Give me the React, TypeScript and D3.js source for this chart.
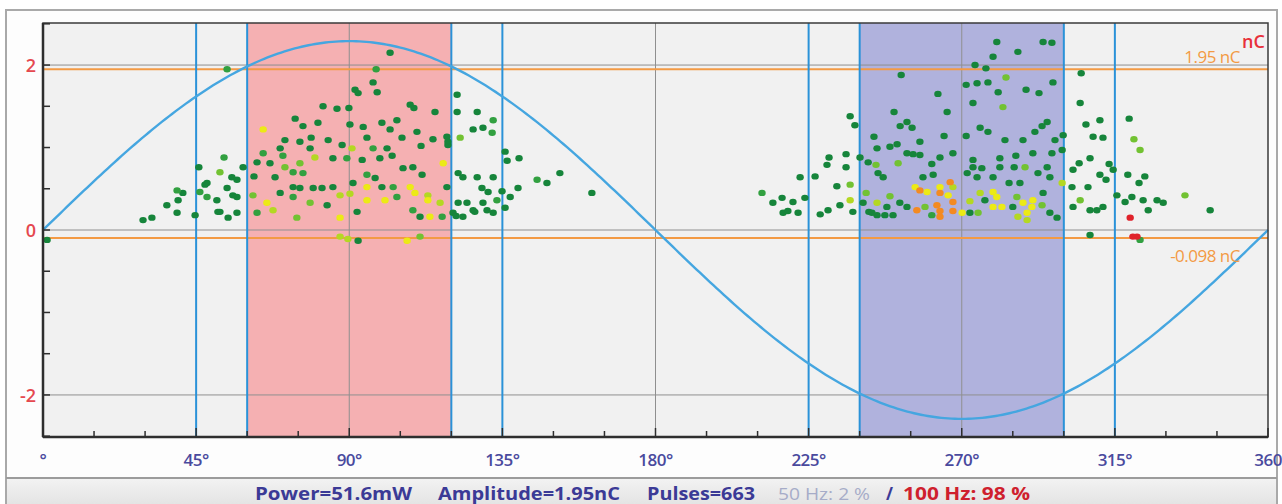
import { useEffect, useRef } from 'react';
import * as d3 from 'd3';

// phase (deg), amplitude (nC)
const darkGreenPulses = [
  [102.0, 2.15], [97.0, 1.79], [91.7, 1.70], [92.6, 1.66], [98.2, 1.67], [82.3, 1.50], [86.4, 1.47], [89.9, 1.48],
  [107.9, 1.52], [109.0, 1.48], [115.2, 1.43], [121.7, 1.64], [121.7, 1.43], [127.6, 1.43], [74.1, 1.35], [76.4, 1.26],
  [80.8, 1.30], [90.2, 1.28], [94.1, 1.25], [99.6, 1.30], [102.0, 1.22], [104.0, 1.33], [109.9, 1.19], [105.5, 1.12],
  [114.6, 1.10], [118.7, 1.13], [126.4, 1.22], [129.3, 1.24], [71.1, 1.09], [75.5, 1.07], [78.8, 1.12], [83.8, 1.09],
  [87.9, 1.03], [95.2, 1.12], [101.1, 0.99], [111.1, 1.02], [119.0, 1.03], [69.7, 0.99], [78.5, 0.99], [102.6, 0.90],
  [66.7, 0.81], [62.9, 0.82], [45.8, 0.76], [58.8, 0.76], [62.0, 0.65], [68.2, 0.64], [85.2, 0.87], [93.8, 0.85],
  [99.0, 0.87], [105.8, 0.75], [108.7, 0.76], [111.4, 0.67], [122.0, 0.69], [127.6, 0.64], [132.3, 0.64], [97.6, 0.63],
  [55.5, 0.64], [57.0, 0.61], [48.2, 0.57], [54.1, 0.51], [41.1, 0.45], [73.5, 0.52], [75.5, 0.51], [79.4, 0.51],
  [82.0, 0.51], [85.2, 0.52], [91.1, 0.57], [99.6, 0.52], [118.7, 0.52], [122.0, 0.33], [124.6, 0.33], [129.3, 0.33],
  [69.7, 0.45], [83.5, 0.30], [51.1, 0.36], [57.0, 0.40], [36.4, 0.30], [39.4, 0.21], [44.7, 0.18], [51.4, 0.22],
  [57.0, 0.21], [54.4, 0.15], [29.4, 0.12], [32.0, 0.15], [92.3, 0.22], [110.8, 0.16], [120.5, 0.21], [123.4, 0.16],
  [126.4, 0.24], [130.5, 0.24], [132.3, 0.21], [92.6, -0.13], [135.8, 0.95], [136.4, 0.84], [139.9, 0.87], [151.9, 0.69],
  [139.6, 0.51], [134.9, 0.47], [161.3, 0.45], [137.3, 0.40], [135.8, 0.27], [47.6, 0.55], [39.7, 0.36], [55.8, 0.42],
  [52.0, 0.22], [1.2, -0.12], [119.0, 1.07], [129.0, 0.51], [130.8, 0.46], [123.4, 0.64], [126.9, 0.22], [121.4, 0.17],
  [148.1, 0.57],
  [280.3, 2.28], [293.9, 2.28], [296.5, 2.27], [286.5, 2.16], [279.2, 2.10], [273.9, 2.00], [277.1, 1.96], [252.2, 1.88],
  [305.1, 1.90], [271.3, 1.76], [274.5, 1.78], [277.7, 1.79], [296.8, 1.79], [263.0, 1.65], [280.7, 1.67], [288.9, 1.70],
  [292.7, 1.66], [304.8, 1.54], [273.3, 1.54], [250.1, 1.43], [265.7, 1.43], [237.2, 1.38], [238.6, 1.27], [253.9, 1.31],
  [251.9, 1.26], [255.4, 1.24], [295.1, 1.31], [293.6, 1.26], [291.5, 1.19], [275.4, 1.24], [277.7, 1.19], [306.5, 1.28],
  [310.6, 1.33], [319.2, 1.35], [308.6, 1.13], [311.5, 1.12], [299.8, 1.15], [297.4, 1.09], [288.0, 1.09], [282.7, 1.09],
  [271.3, 1.14], [264.8, 1.14], [257.7, 1.07], [244.2, 1.13], [248.9, 1.01], [251.0, 1.04], [245.1, 0.99], [253.9, 0.93],
  [255.7, 0.92], [257.7, 0.91], [267.4, 0.93], [263.6, 0.88], [261.2, 0.80], [273.3, 0.85], [273.3, 0.76], [275.9, 0.75],
  [281.2, 0.87], [285.9, 0.90], [290.9, 0.93], [296.5, 0.93], [299.5, 0.97], [285.4, 0.76], [281.2, 0.76], [295.1, 0.76],
  [304.5, 0.81], [307.7, 0.87], [313.3, 0.80], [302.7, 0.73], [310.6, 0.67], [314.5, 0.73], [236.0, 0.92], [231.0, 0.88],
  [240.1, 0.88], [242.5, 0.82], [230.4, 0.79], [236.0, 0.76], [245.4, 0.69], [246.9, 0.64], [258.6, 0.64], [261.6, 0.67],
  [271.6, 0.69], [274.5, 0.64], [279.2, 0.64], [283.9, 0.57], [287.1, 0.57], [292.4, 0.69], [295.9, 0.64], [302.4, 0.52],
  [307.1, 0.52], [312.4, 0.61], [318.8, 0.67], [323.8, 0.65], [322.1, 0.57], [222.5, 0.64], [226.9, 0.65], [233.3, 0.53],
  [214.5, 0.33], [217.2, 0.39], [220.4, 0.34], [223.9, 0.39], [217.5, 0.21], [218.9, 0.23], [221.9, 0.21], [228.4, 0.19],
  [230.7, 0.24], [234.2, 0.30], [238.0, 0.22], [241.0, 0.33], [242.7, 0.22], [245.1, 0.18], [248.0, 0.28], [247.4, 0.18],
  [249.8, 0.18], [251.8, 0.33], [253.9, 0.28], [276.8, 0.36], [272.4, 0.21], [285.0, 0.28], [295.9, 0.21], [298.0, 0.15],
  [293.9, 0.45], [302.7, 0.28], [307.7, 0.24], [309.7, 0.24], [311.5, 0.28], [315.6, 0.42], [318.0, 0.34], [320.0, 0.40],
  [323.3, 0.36], [327.4, 0.36], [329.2, 0.33], [324.8, 0.24], [343.0, 0.24], [307.7, -0.06], [243.6, 0.21],
];

const greenPulses = [
  [54.1, 1.95], [97.9, 1.95], [132.3, 1.33], [132.0, 1.18], [97.0, 0.99], [64.7, 0.93], [70.5, 0.90], [53.2, 0.88],
  [89.3, 0.87], [95.2, 0.67], [76.4, 0.69], [73.5, 0.70], [39.4, 0.48], [46.1, 0.46], [102.9, 0.52], [133.4, 0.36],
  [104.0, 0.40], [62.9, 0.21], [73.5, 0.40], [48.2, 0.40], [108.7, 0.24], [117.3, 0.16], [145.2, 0.61], [211.3, 0.45],
  [261.2, 0.18], [322.4, -0.12],
];

const lightGreenPulses = [
  [122.6, 1.12], [71.1, 0.76], [75.5, 0.81], [52.0, 0.70], [61.7, 0.42], [78.5, 0.33], [74.6, 0.15], [110.8, -0.08],
  [283.0, 1.85], [282.1, 1.49], [320.6, 1.10], [322.4, 0.97], [288.6, 0.76], [244.8, 0.79], [251.3, 0.81], [237.2, 0.55],
  [248.9, 0.41], [259.2, 0.28], [274.8, 0.21], [286.2, 0.40], [293.6, 0.30], [304.8, 0.36], [335.6, 0.42], [241.9, 0.45],
];

const yellowGreenPulses = [
  [90.8, 0.99], [79.9, 0.88], [113.1, 0.42], [87.3, 0.42], [90.2, 0.44], [116.7, 0.33], [67.6, 0.24], [87.3, -0.08],
  [89.6, -0.11], [299.5, 0.57], [237.2, 0.36], [267.4, 0.52], [272.4, 0.35], [275.4, 0.45], [286.5, 0.16], [289.2, 0.12],
  [245.1, 0.33],
];

const yellowPulses = [
  [64.7, 1.22], [117.6, 0.81], [95.2, 0.52], [107.9, 0.52], [109.3, 0.45], [95.2, 0.36], [100.5, 0.36], [113.1, 0.36],
  [65.8, 0.33], [87.3, 0.15], [113.7, 0.16], [107.0, -0.13], [256.3, 0.52], [259.8, 0.46], [263.6, 0.52], [266.0, 0.42],
  [270.1, 0.21], [279.2, 0.46], [280.3, 0.40], [279.2, 0.28], [281.8, 0.28], [288.0, 0.33], [290.9, 0.36], [290.6, 0.28],
  [289.2, 0.21],
];

const orangePulses = [
  [256.8, 0.24], [257.7, 0.48], [263.6, 0.45], [266.6, 0.58], [267.4, 0.34], [262.7, 0.30], [263.6, 0.23], [267.4, 0.23],
  [263.6, 0.16],
];

const redPulses = [[319.5, 0.15], [320.3, -0.08], [321.5, -0.08]];

const pulseGroups = [
  { pts: darkGreenPulses, color: '#16853a' },
  { pts: greenPulses, color: '#30a040' },
  { pts: lightGreenPulses, color: '#72c232' },
  { pts: yellowGreenPulses, color: '#b4d824' },
  { pts: yellowPulses, color: '#ecea12' },
  { pts: orangePulses, color: '#f38a22' },
  { pts: redPulses, color: '#e0242c' },
];

const phaseTicks = [0, 15, 30, 45, 60, 75, 90, 105, 120, 135, 150, 165, 180, 195, 210, 225, 240, 255, 270, 285, 300, 315, 330, 345, 360];
const phaseLabelValues = [0, 45, 90, 135, 180, 225, 270, 315, 360];
const phaseLabelTexts = ['°', '45°', '90°', '135°', '180°', '225°', '270°', '315°', '360'];
const ampTicks = [-2.5, -2, -1.5, -1, -0.5, 0, 0.5, 1, 1.5, 2, 2.5];
const ampLabelValues = [-2, 0, 2];
const gridPhases = [90, 180, 270];
const windowLines = [45, 60, 120, 135, 225, 240, 300, 315];
const posWindow = [60, 120];
const negWindow = [240, 300];
const thresholds = [1.95, -0.098];
const thresholdLabels = ['1.95 nC', '-0.098 nC'];
const sineAmplitude = 2.29;
const statusParts = [
  { text: 'Power=51.6mW', x: 255, w: 157, color: '#3b3a96', weight: 700 },
  { text: 'Amplitude=1.95nC', x: 438, w: 182, color: '#3b3a96', weight: 700 },
  { text: 'Pulses=663', x: 647, w: 108, color: '#3b3a96', weight: 700 },
  { text: '50 Hz: 2 %', x: 778, w: 92, color: '#a6acc8', weight: 400 },
  { text: '/', x: 886, w: 7, color: '#3b3a96', weight: 700 },
  { text: '100 Hz: 98 %', x: 903, w: 127, color: '#cf1f2e', weight: 700 },
];

export default function App() {
  const svgRef = useRef<SVGSVGElement>(null);

  useEffect(() => {
    const svg = d3.select(svgRef.current);
    svg.selectAll('*').remove();

    const left = 43, right = 1268, top = 23, bottom = 437;
    const x = d3.scaleLinear().domain([0, 360]).range([left, right]);
    const y = d3.scaleLinear().domain([-2.51, 2.51]).range([bottom, top]);

    // frame
    svg.append('rect').attr('width', 1282).attr('height', 504).attr('fill', '#fff');
    svg.append('rect').attr('x', 6).attr('y', 10).attr('width', 1271).attr('height', 500)
      .attr('fill', '#fdfdfd').attr('stroke', '#a9a9a9').attr('stroke-width', 2);

    // plot bg
    svg.append('rect').attr('x', left).attr('y', top).attr('width', right - left).attr('height', bottom - top)
      .attr('fill', '#f1f1f1');

    // windows
    svg.append('rect').attr('x', x(posWindow[0])).attr('y', top)
      .attr('width', x(posWindow[1]) - x(posWindow[0])).attr('height', bottom - top).attr('fill', '#f5b0b2');
    svg.append('rect').attr('x', x(negWindow[0])).attr('y', top)
      .attr('width', x(negWindow[1]) - x(negWindow[0])).attr('height', bottom - top).attr('fill', '#b0b2dd');

    // grid
    svg.append('g').selectAll('line').data(ampLabelValues).join('line')
      .attr('x1', left).attr('x2', right).attr('y1', (d) => y(d)).attr('y2', (d) => y(d))
      .attr('stroke', '#8f8f8f').attr('stroke-width', 1);
    svg.append('g').selectAll('line').data(gridPhases).join('line')
      .attr('x1', (d) => x(d)).attr('x2', (d) => x(d)).attr('y1', top).attr('y2', bottom)
      .attr('stroke', '#8f8f8f').attr('stroke-width', 1);

    // thresholds
    svg.append('g').selectAll('line').data(thresholds).join('line')
      .attr('x1', left).attr('x2', right).attr('y1', (d) => y(d)).attr('y2', (d) => y(d))
      .attr('stroke', '#f39a44').attr('stroke-width', 2);

    // window borders
    svg.append('g').selectAll('line').data(windowLines).join('line')
      .attr('x1', (d) => x(d)).attr('x2', (d) => x(d)).attr('y1', top).attr('y2', bottom)
      .attr('stroke', '#2a92d8').attr('stroke-width', 2);

    // reference sine
    const phases = d3.range(0, 360.5, 1);
    const line = d3.line<number>()
      .x((d) => x(d))
      .y((d) => y(sineAmplitude * Math.sin((d * Math.PI) / 180)));
    svg.append('path').datum(phases).attr('d', line).attr('fill', 'none')
      .attr('stroke', '#45a6e0').attr('stroke-width', 2.4);

    // pulses
    const defs = svg.append('defs');
    defs.append('filter').attr('id', 'soft').append('feGaussianBlur').attr('stdDeviation', 0.5);
    pulseGroups.forEach((grp) => {
      svg.append('g').attr('filter', 'url(#soft)').selectAll('ellipse').data(grp.pts).join('ellipse')
        .attr('cx', (d) => x(d[0])).attr('cy', (d) => y(d[1]))
        .attr('rx', 3.7).attr('ry', 3.2).attr('fill', grp.color);
    });

    // axes frame
    svg.append('rect').attr('x', left).attr('y', top).attr('width', right - left).attr('height', bottom - top)
      .attr('fill', 'none').attr('stroke', '#3a3a3a').attr('stroke-width', 1.5);
    svg.append('line').attr('x1', left).attr('x2', left).attr('y1', top).attr('y2', bottom)
      .attr('stroke', '#2e2e2e').attr('stroke-width', 2.5);
    svg.append('line').attr('x1', left).attr('x2', right).attr('y1', bottom).attr('y2', bottom)
      .attr('stroke', '#2e2e2e').attr('stroke-width', 2.5);

    // ticks
    svg.append('g').selectAll('line').data(phaseTicks).join('line')
      .attr('x1', (d) => x(d)).attr('x2', (d) => x(d)).attr('y1', bottom)
      .attr('y2', (d) => bottom - (d % 45 === 0 ? 9 : 6))
      .attr('stroke', '#2e2e2e').attr('stroke-width', 1.5);
    svg.append('g').selectAll('line').data(ampTicks).join('line')
      .attr('x1', left).attr('x2', left + 7).attr('y1', (d) => y(d)).attr('y2', (d) => y(d))
      .attr('stroke', '#2e2e2e').attr('stroke-width', 1.5);

    // labels
    svg.append('g').selectAll('text').data(phaseLabelValues).join('text')
      .attr('x', (d) => (d === 360 ? 1282 : x(d)))
      .attr('y', 466)
      .attr('text-anchor', (d) => (d === 360 ? 'end' : 'middle'))
      .style('font-family', 'Open Sans, sans-serif').style('font-size', '17px').style('font-weight', 600)
      .style('letter-spacing', '-0.5px')
      .attr('fill', '#4a4a9e')
      .text((d, i) => phaseLabelTexts[i]);
    svg.append('g').selectAll('text').data(ampLabelValues).join('text')
      .attr('x', 36).attr('y', (d) => y(d) + 7).attr('text-anchor', 'end')
      .style('font-family', 'Open Sans, sans-serif').style('font-size', '18px').style('font-weight', 600)
      .attr('fill', '#e5484f')
      .text((d) => String(d));

    svg.append('g').selectAll('text').data(thresholds).join('text')
      .attr('x', 1240).attr('y', (d, i) => (i === 0 ? y(d) - 6 : y(d) + 24)).attr('text-anchor', 'end')
      .style('font-family', 'Open Sans, sans-serif').style('font-size', '17px')
      .style('letter-spacing', '-0.5px')
      .attr('fill', '#f39a44')
      .text((d, i) => thresholdLabels[i]);
    svg.append('text').attr('x', 1242).attr('y', 48)
      .style('font-family', 'Open Sans, sans-serif').style('font-size', '18px').style('font-weight', 600)
      .attr('fill', '#e8303a').text('nC');

    // status bar
    const grad = defs.append('linearGradient').attr('id', 'bar').attr('x1', 0).attr('x2', 0).attr('y1', 0).attr('y2', 1);
    grad.append('stop').attr('offset', 0).attr('stop-color', '#f2f2f2');
    grad.append('stop').attr('offset', 1).attr('stop-color', '#e4e4e4');
    svg.append('rect').attr('x', 7).attr('y', 479).attr('width', 1269).attr('height', 25).attr('fill', 'url(#bar)');
    svg.append('line').attr('x1', 6).attr('x2', 1277).attr('y1', 478).attr('y2', 478)
      .attr('stroke', '#9c9c9c').attr('stroke-width', 2);
    svg.append('g').selectAll('text').data(statusParts).join('text')
      .attr('x', (d) => d.x).attr('y', 500)
      .attr('textLength', (d) => d.w).attr('lengthAdjust', 'spacingAndGlyphs')
      .style('font-family', 'Open Sans, sans-serif').style('font-size', '17px')
      .style('font-weight', (d) => d.weight)
      .attr('fill', (d) => d.color)
      .text((d) => d.text);
  }, []);

  return (
    <svg ref={svgRef} width={1282} height={504} style={{ position: 'absolute', left: 0, top: 0 }} />
  );
}
